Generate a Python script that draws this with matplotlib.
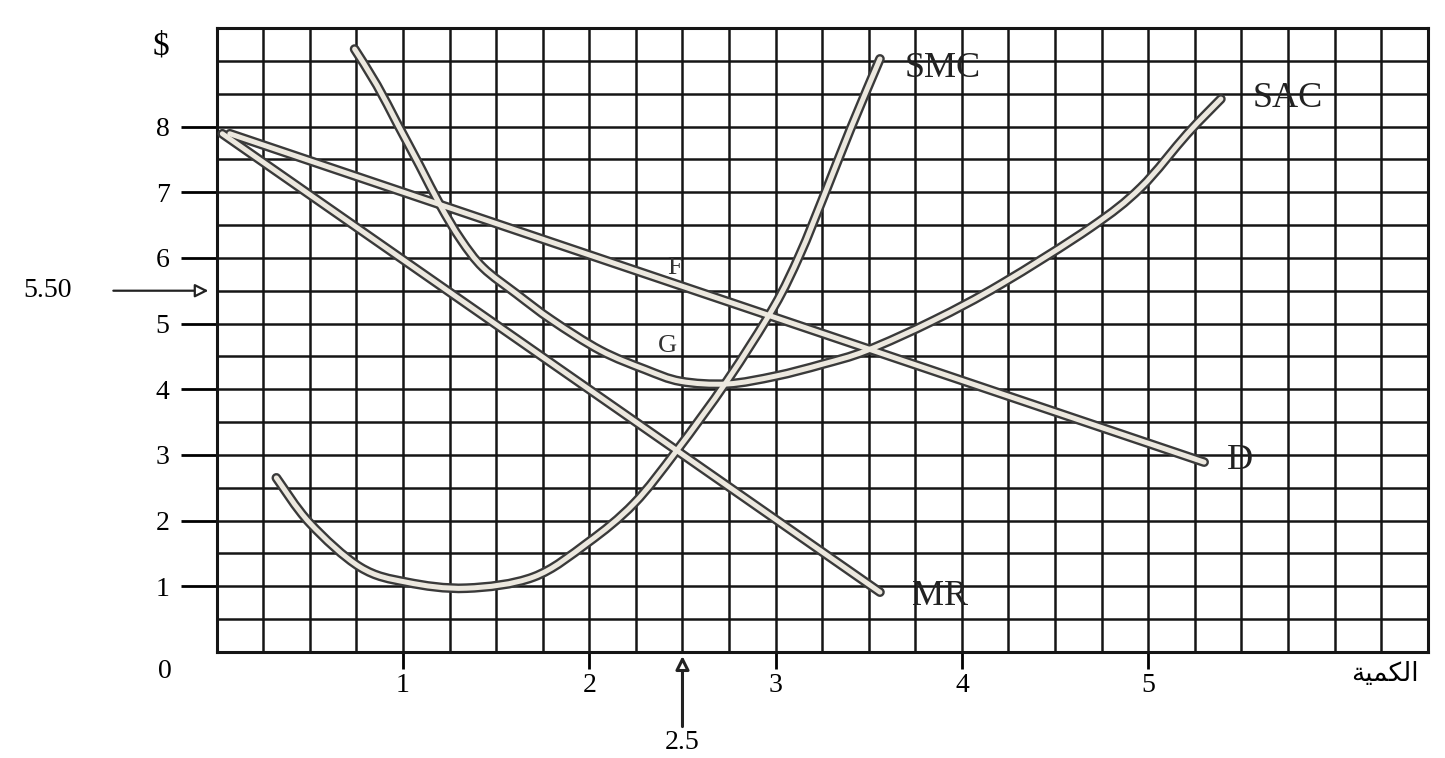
import matplotlib.pyplot as plt
import numpy as np
from matplotlib.path import Path
from matplotlib.patches import PathPatch

# ---- data ----
# short-run marginal cost (SMC)
smc_q = [0.32, 0.50, 0.77, 1.02, 1.34, 1.70, 1.99, 2.24, 2.47, 2.74, 2.99, 3.13, 3.26, 3.40, 3.56]
smc_c = [2.65, 1.96, 1.29, 1.06, 0.97, 1.14, 1.66, 2.26, 3.07, 4.13, 5.25, 6.05, 6.95, 7.95, 9.03]

# short-run average cost (SAC)
sac_q = [0.74, 0.86, 0.97, 1.09, 1.20, 1.31, 1.43, 1.61, 1.80, 2.06, 2.30, 2.49, 2.74,
         3.00, 3.25, 3.49, 3.85, 4.21, 4.69, 4.96, 5.21, 5.39]
sac_c = [9.18, 8.63, 8.04, 7.40, 6.80, 6.28, 5.85, 5.45, 5.05, 4.59, 4.30, 4.12, 4.08,
         4.20, 4.38, 4.59, 5.05, 5.60, 6.46, 7.07, 7.89, 8.42]

# demand (D) and marginal revenue (MR)
d_q = [0.07, 5.30]
d_p = [7.89, 2.89]
mr_q = [0.03, 3.56]
mr_p = [7.89, 0.91]

x_ticks = [1, 2, 3, 4, 5]
y_ticks = [1, 2, 3, 4, 5, 6, 7, 8]
q_star = 2.5
p_star = 5.50

# arabic "الكمية" shaped by hand (presentation forms, visual order)
qty_label = "\uFE94\uFEF4\uFEE4\uFEDC\uFEDF\uFE8D"

serif = "Liberation Serif"

fig = plt.figure(figsize=(14.45, 7.58), dpi=100)
ax = fig.add_axes([0.150, 0.140, 0.838, 0.823])
ax.set_xlim(0, 6.5)
ax.set_ylim(0, 9.5)

# graph-paper grid
for gx in np.arange(0.25, 6.5, 0.25):
    ax.axvline(gx, color="#151515", lw=1.8, zorder=1)
for gy in np.arange(0.5, 9.5, 0.5):
    ax.axhline(gy, color="#151515", lw=1.8, zorder=1)
for s in ax.spines.values():
    s.set_linewidth(2.2)
    s.set_color("#151515")


def smooth_path(xs, ys):
    # catmull-rom through the read points, drawn as cubic bezier segments
    pts = np.column_stack([xs, ys])
    if len(pts) < 3:
        return Path(pts)
    verts = [pts[0]]
    codes = [Path.MOVETO]
    for i in range(len(pts) - 1):
        p0 = pts[max(i - 1, 0)]
        p1 = pts[i]
        p2 = pts[i + 1]
        p3 = pts[min(i + 2, len(pts) - 1)]
        verts += [p1 + (p2 - p0) / 6, p2 - (p3 - p1) / 6, p2]
        codes += [Path.CURVE4] * 3
    return Path(verts, codes)


def outlined(xs, ys):
    path = smooth_path(xs, ys)
    for lw, col, z in [(7, "#3a3a3a", 3), (3.6, "#ece8df", 4)]:
        ax.add_patch(PathPatch(path, fill=False, edgecolor=col, lw=lw,
                               capstyle="round", joinstyle="round", zorder=z))


outlined(d_q, d_p)
outlined(mr_q, mr_p)
outlined(sac_q, sac_c)
outlined(smc_q, smc_c)

lbl = dict(fontfamily=serif, fontsize=26, color="#222222", zorder=6,
           va="center", ha="left")
ax.text(3.69, 8.88, "SMC", **lbl)
ax.text(5.56, 8.43, "SAC", **lbl)
ax.text(5.42, 2.92, "D", **lbl)
ax.text(3.73, 0.85, "MR", **lbl)
ax.text(2.46, 5.84, "F", fontfamily=serif, fontsize=19, color="#333333",
        ha="center", va="center", zorder=6)
ax.text(2.42, 4.66, "G", fontfamily=serif, fontsize=19, color="#333333",
        ha="center", va="center", zorder=6)

# ticks
ax.set_xticks(x_ticks)
ax.set_yticks(y_ticks)
ax.set_xticklabels([str(t) for t in x_ticks], fontfamily=serif, fontsize=20)
ax.set_yticklabels([str(t) for t in y_ticks], fontfamily=serif, fontsize=20)
ax.tick_params(axis="x", direction="out", length=12, width=2, pad=3)
ax.tick_params(axis="y", direction="out", length=26, width=2, pad=8)

ax.text(-0.30, 9.22, "$", fontfamily=serif, fontsize=24, ha="center", va="center",
        clip_on=False)
ax.text(-0.28, -0.30, "0", fontfamily=serif, fontsize=20, ha="center", va="center",
        clip_on=False)
ax.text(6.27, -0.33, qty_label, fontfamily=["DejaVu Sans", "Noto Sans"], fontsize=19,
        ha="center", va="center", clip_on=False)

# marked price 5.50
ax.annotate("", xy=(-0.03, p_star), xytext=(-0.57, p_star),
            arrowprops=dict(arrowstyle="-|>", lw=1.6, color="#222222",
                            mutation_scale=20, fc="white"),
            annotation_clip=False)
ax.text(-0.91, p_star, f"{p_star:.2f}", fontfamily=serif, fontsize=20,
        ha="center", va="center", clip_on=False)

# marked quantity 2.5
ax.annotate("", xy=(q_star, -0.02), xytext=(q_star, -1.18),
            arrowprops=dict(arrowstyle="-|>", lw=2.2, color="#222222",
                            mutation_scale=20, fc="white"),
            annotation_clip=False)
ax.text(q_star, -1.38, f"{q_star}", fontfamily=serif, fontsize=20,
        ha="center", va="center", clip_on=False)

fig.savefig("out.png", dpi=100)
